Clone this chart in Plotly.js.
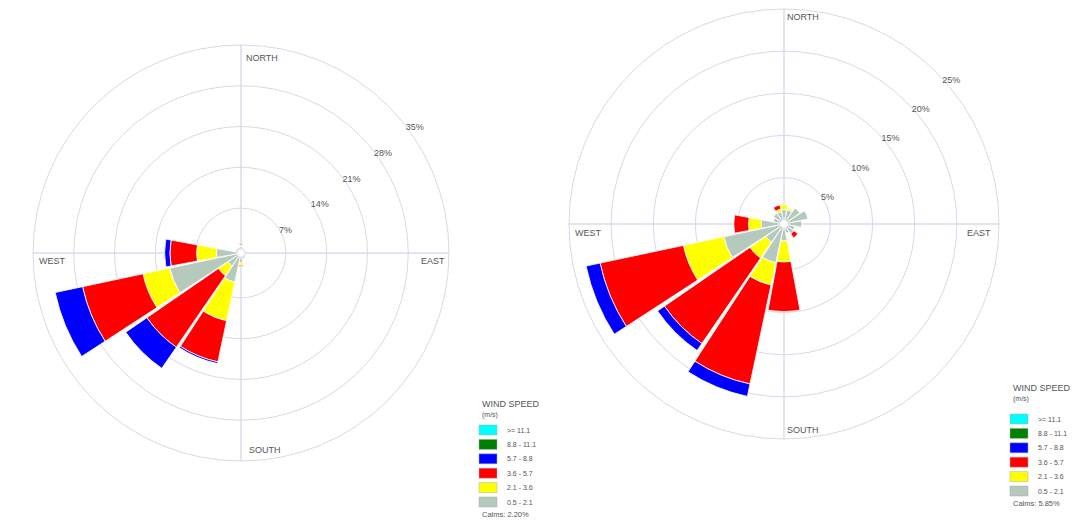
<!DOCTYPE html>
<html>
<head>
<meta charset="utf-8">
<script src="https://cdn.plot.ly/plotly-3.0.1.min.js"></script>
<style>
  html, body { margin: 0; padding: 0; background: #ffffff; }
  #chart { width: 1072px; height: 520px; }
</style>
</head>
<body>
<div id="chart"></div>
<script>
// ---- categories ----
const directions = ['N','NNE','NE','ENE','E','ESE','SE','SSE','S','SSW','SW','WSW','W','WNW','NW','NNW'];
const speedBins  = ['0.5 - 2.1', '2.1 - 3.6', '3.6 - 5.7', '5.7 - 8.8', '8.8 - 11.1', '>= 11.1'];
const binColors  = ['#b6c9bd', '#ffff00', '#ff0000', '#0000ff', '#008000', '#00ffff'];

// ---- left rose (frequency %, per direction) ----
const leftBin1 = [0.5, 0.2, 0.1, 0.1, 0.1, 0.1, 0.2, 0.4, 1.0, 4.4, 2.0, 11.8, 3.5, 0.3, 0.2, 0.3];
const leftBin2 = [0.2, 0,   0,   0,   0,   0,   0,   0.1, 0.4, 6.8, 2.0, 4.7,  3.4, 0,   0,   0  ];
const leftBin3 = [0.2, 0,   0,   0,   0,   0,   0,   0,   0.2, 7.2, 14.9, 10.6, 4.6, 0,  0,   0  ];
const leftBin4 = [0,   0,   0,   0,   0,   0,   0,   0,   0,   0.3, 4.4, 4.8,  0.9, 0,   0,   0  ];
const leftBin5 = [0,   0,   0,   0,   0,   0,   0,   0,   0,   0,   0,   0,    0,   0,   0,   0  ];
const leftBin6 = [0,   0,   0,   0,   0,   0,   0,   0,   0,   0,   0,   0,    0,   0,   0,   0  ];
const leftTicks = [7, 14, 21, 28, 35];
const leftTickText = ['7%', '14%', '21%', '28%', '35%'];
const leftCalms = 'Calms: 2.20%';

// ---- right rose (frequency %, per direction) ----
const rightBin1 = [1.2, 1.2, 1.8, 2.4, 1.6, 0.8, 0.9, 0.6, 1.5, 4.2, 2.1, 6.8, 2.2, 0.8, 1.0, 1.0];
const rightBin2 = [0.6, 0.2, 0,   0,   0,   0,   0,   0,   2.5, 2.7, 2.3, 4.9, 1.5, 0,   0,   0.3];
const rightBin3 = [0,   0,   0,   0,   0,   0,   0.6, 0,   5.9, 12.0, 12.3, 10.1, 1.75, 0, 0,   0.5];
const rightBin4 = [0,   0,   0,   0,   0,   0,   0,   0,   0,   1.5, 1.0, 1.7, 0,   0,   0,   0  ];
const rightBin5 = [0,   0,   0,   0,   0,   0,   0,   0,   0,   0,   0,   0,   0,   0,   0,   0  ];
const rightBin6 = [0,   0,   0,   0,   0,   0,   0,   0,   0,   0,   0,   0,   0,   0,   0,   0  ];
const rightTicks = [5, 10, 15, 20, 25];
const rightTickText = ['5%', '10%', '15%', '20%', '25%'];
const rightCalms = 'Calms: 5.85%';

const compassLabels = ['NORTH', 'EAST', 'SOUTH', 'WEST'];

// ---- build ----
const theta = directions.map((d, i) => i * 360 / directions.length);
const leftBins  = [leftBin1, leftBin2, leftBin3, leftBin4, leftBin5, leftBin6];
const rightBins = [rightBin1, rightBin2, rightBin3, rightBin4, rightBin5, rightBin6];

const traces = [];
function addRose(bins, subplot) {
  bins.forEach((vals, k) => {
    traces.push({
      type: 'barpolar',
      subplot: subplot,
      name: speedBins[k],
      r: vals,
      theta: theta,
      width: 21,
      customdata: directions,
      hovertemplate: '%{customdata}: %{r}%<extra>' + speedBins[k] + ' m/s</extra>',
      marker: { color: binColors[k], line: { color: '#ffffff', width: 0.8 } },
      showlegend: false
    });
  });
}
addRose(leftBins, 'polar');
addRose(rightBins, 'polar2');

const W = 1072, H = 520;
const px = x => x / W;
const py = y => 1 - y / H;
const FONT = 'Liberation Sans, Arial, sans-serif';

function polarLayout(domainX, domainY, ticks, tickText, angle) {
  return {
    domain: { x: domainX, y: domainY },
    hole: 0.02,
    bgcolor: '#ffffff',
    radialaxis: {
      range: [0, ticks[ticks.length - 1]],
      tickmode: 'array',
      tickvals: ticks,
      ticktext: tickText,
      angle: angle,
      tickangle: angle,
      showline: false,
      ticks: '',
      gridcolor: '#d8d8ea',
      gridwidth: 1,
      tickfont: { family: FONT, size: 9, color: '#555555' }
    },
    angularaxis: {
      rotation: 90,
      direction: 'clockwise',
      tickvals: [0, 90, 180, 270],
      showticklabels: false,
      ticks: '',
      gridcolor: '#c9c9e3',
      gridwidth: 1,
      showline: true,
      linecolor: '#d8d8ea',
      linewidth: 1
    }
  };
}

const annotations = [];
const shapes = [];
function txt(text, x, y, anchor, size) {
  annotations.push({
    text: text, xref: 'paper', yref: 'paper', x: px(x), y: py(y),
    xanchor: anchor || 'center', yanchor: 'middle', showarrow: false,
    font: { family: FONT, size: size || 9, color: '#555555' }
  });
}
// compass labels
const leftCompassPos  = [[262, 58], [433, 261], [265, 450], [52, 261]];
const rightCompassPos = [[803, 17], [979, 233], [803, 430], [588, 233]];
compassLabels.forEach((t, i) => {
  txt(t, leftCompassPos[i][0], leftCompassPos[i][1]);
  txt(t, rightCompassPos[i][0], rightCompassPos[i][1]);
});

// legends
function legend(x0, yTitle, yFirst, step, calms) {
  txt('WIND SPEED', x0 + 1, yTitle, 'left', 9);
  txt('(m/s)', x0 + 1, yTitle + 11, 'left', 7);
  const order = speedBins.map((s, k) => k).reverse();
  order.forEach((k, i) => {
    const yc = yFirst + i * step;
    shapes.push({
      type: 'rect', xref: 'paper', yref: 'paper',
      x0: px(x0), x1: px(x0 + 18), y0: py(yc + 5), y1: py(yc - 5),
      fillcolor: binColors[k], line: { color: '#aaaaaa', width: 0.5 }
    });
    txt(speedBins[k], x0 + 26, yc, 'left', 7);
  });
  txt(calms, x0 + 1, yFirst + 6 * step - 2, 'left', 7.5);
}
legend(479, 404, 430, 14.4, leftCalms);
legend(1010, 388, 419, 14.4, rightCalms);

const layout = {
  width: W, height: H,
  margin: { l: 0, r: 0, t: 0, b: 0 },
  paper_bgcolor: '#ffffff',
  showlegend: false,
  font: { family: FONT },
  polar:  polarLayout([33 / W, 449 / W], [59 / H, 475 / H], leftTicks, leftTickText, 39),
  polar2: polarLayout([569 / W, 999 / W], [81 / H, 511 / H], rightTicks, rightTickText, 44),
  annotations: annotations,
  shapes: shapes
};

Plotly.newPlot('chart', traces, layout, { displayModeBar: false, staticPlot: true });
</script>
</body>
</html>
